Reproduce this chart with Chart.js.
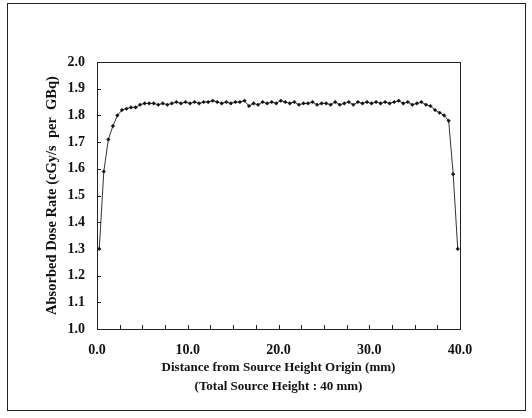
<!DOCTYPE html>
<html lang="en">
<head>
    <meta charset="UTF-8">
    <title>absorbed dose rate</title>
    <script src="https://cdn.jsdelivr.net/npm/chart.js@4.4.0/dist/chart.umd.min.js"></script>
    <style>
        body { margin: 0; background: #fff; }
        #wrap { position: relative; width: 532px; height: 418px; }
        #frame { position: absolute; left: 7px; top: 3px; width: 519px; height: 408px; border: 1px solid #222; box-sizing: border-box; pointer-events: none; }
    </style>
</head>
<body>
    <div id="wrap">
        <canvas id="dose" width="532" height="418"></canvas>
        <div id="frame"></div>
    </div>
    <script>
        // distance from source height origin (mm)
        let distance = [0.25, 0.75, 1.25, 1.75, 2.25, 2.75, 3.25, 3.75, 4.25, 4.75,
            5.25, 5.75, 6.25, 6.75, 7.25, 7.75, 8.25, 8.75, 9.25, 9.75,
            10.25, 10.75, 11.25, 11.75, 12.25, 12.75, 13.25, 13.75, 14.25, 14.75,
            15.25, 15.75, 16.25, 16.75, 17.25, 17.75, 18.25, 18.75, 19.25, 19.75,
            20.25, 20.75, 21.25, 21.75, 22.25, 22.75, 23.25, 23.75, 24.25, 24.75,
            25.25, 25.75, 26.25, 26.75, 27.25, 27.75, 28.25, 28.75, 29.25, 29.75,
            30.25, 30.75, 31.25, 31.75, 32.25, 32.75, 33.25, 33.75, 34.25, 34.75,
            35.25, 35.75, 36.25, 36.75, 37.25, 37.75, 38.25, 38.75, 39.25, 39.75];
        // absorbed dose rate (cGy/s per GBq)
        let doseRate = [1.30, 1.59, 1.71, 1.76, 1.80, 1.82, 1.825, 1.83, 1.83, 1.84,
            1.845, 1.845, 1.845, 1.84, 1.845, 1.84, 1.845, 1.85, 1.845, 1.85,
            1.845, 1.85, 1.845, 1.85, 1.85, 1.855, 1.85, 1.845, 1.85, 1.845,
            1.85, 1.85, 1.855, 1.835, 1.845, 1.84, 1.85, 1.845, 1.85, 1.845,
            1.855, 1.85, 1.845, 1.85, 1.84, 1.845, 1.845, 1.85, 1.84, 1.845,
            1.845, 1.84, 1.85, 1.84, 1.845, 1.85, 1.84, 1.85, 1.845, 1.85,
            1.845, 1.85, 1.845, 1.85, 1.845, 1.85, 1.855, 1.845, 1.85, 1.84,
            1.845, 1.85, 1.84, 1.835, 1.82, 1.81, 1.80, 1.78, 1.58, 1.30];
        let xTicks = [0, 10, 20, 30, 40];
        let yTicks = [1.0, 1.1, 1.2, 1.3, 1.4, 1.5, 1.6, 1.7, 1.8, 1.9, 2.0];

        const serif = "'Liberation Serif', 'DejaVu Serif', serif";

        // box round the plot area and inward tick marks
        const boxTicks = {
            id: 'boxTicks',
            afterDraw(chart) {
                const ctx = chart.ctx;
                const a = chart.chartArea;
                const x = chart.scales.x, y = chart.scales.y;
                ctx.save();
                ctx.strokeStyle = '#222';
                ctx.lineWidth = 1;
                ctx.strokeRect(Math.round(a.left) + 0.5, Math.round(a.top) + 0.5, Math.round(a.right - a.left), Math.round(a.bottom - a.top));
                ctx.beginPath();
                for (let v = x.min; v <= x.max + 0.001; v += 2.5) {
                    const px = Math.round(x.getPixelForValue(v)) + 0.5;
                    ctx.moveTo(px, a.bottom);
                    ctx.lineTo(px, a.bottom - 4);
                }
                yTicks.forEach(v => {
                    const py = Math.round(y.getPixelForValue(v)) + 0.5;
                    ctx.moveTo(a.left, py);
                    ctx.lineTo(a.left + 4, py);
                });
                ctx.stroke();
                ctx.restore();
            }
        };

        new Chart(document.getElementById('dose').getContext('2d'), {
            type: 'scatter',
            data: {
                datasets: [{
                    label: 'dose rate',
                    data: distance.map((d, i) => ({x: d, y: doseRate[i]})),
                    showLine: true,
                    borderColor: '#333',
                    borderWidth: 1,
                    pointStyle: 'rectRot',
                    pointRadius: 1.8,
                    pointBackgroundColor: '#111',
                    pointBorderColor: '#111',
                    pointBorderWidth: 0.5
                }]
            },
            options: {
                responsive: false,
                animation: false,
                events: [],
                layout: { padding: { left: 0, right: 72, top: 62, bottom: 0 } },
                plugins: { legend: { display: false }, tooltip: { enabled: false } },
                scales: {
                    x: {
                        type: 'linear', min: 0, max: 40,
                        afterBuildTicks: s => { s.ticks = xTicks.map(v => ({value: v})); },
                        afterFit: s => { s.height = 89; },
                        grid: { display: false, drawTicks: false },
                        border: { display: false },
                        ticks: {
                            color: '#111', padding: 13,
                            font: { family: serif, size: 14, weight: 'bold' },
                            callback: v => v.toFixed(1)
                        },
                        title: {
                            display: true, color: '#111',
                            text: ['Distance from Source Height Origin (mm)', '(Total Source Height : 40 mm)'],
                            font: { family: serif, size: 13, weight: 'bold', lineHeight: 1.45 },
                            padding: { top: 0, bottom: 22 }
                        }
                    },
                    y: {
                        type: 'linear', min: 1.0, max: 2.0,
                        afterBuildTicks: s => { s.ticks = yTicks.map(v => ({value: v})); },
                        afterFit: s => { s.width = 97; },
                        grid: { display: false, drawTicks: false },
                        border: { display: false },
                        ticks: {
                            color: '#111', padding: 12,
                            font: { family: serif, size: 14, weight: 'bold' },
                            callback: v => v.toFixed(1)
                        },
                        title: {
                            display: true, color: '#111',
                            text: 'Absorbed Dose Rate (cGy/s  per  GBq)',
                            font: { family: serif, size: 14.5, weight: 'bold' },
                            padding: { top: 44, bottom: 0 }
                        }
                    }
                }
            },
            plugins: [boxTicks]
        });
    </script>
</body>
</html>
